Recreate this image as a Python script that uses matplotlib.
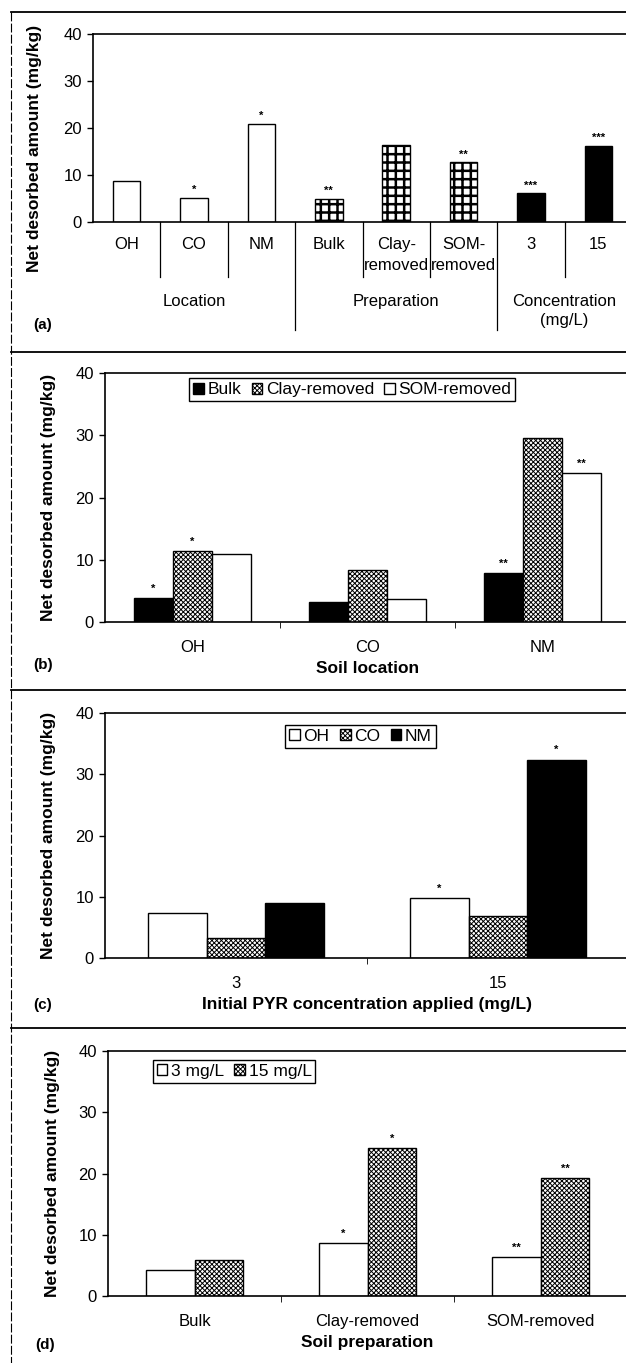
import numpy as np
import matplotlib
matplotlib.use('Agg')
import matplotlib.pyplot as plt
from matplotlib.lines import Line2D

plt.rcParams['font.family'] = ['Liberation Sans', 'DejaVu Sans']
plt.rcParams['hatch.linewidth'] = 0.7

# (a) datos por factor
a_labels = ['OH', 'CO', 'NM', 'Bulk', 'Clay-\nremoved', 'SOM-\nremoved', '3', '15']
a_values = [8.8, 5.1, 20.9, 5.0, 16.4, 12.7, 6.1, 16.2]
a_stars = ['', '*', '*', '**', '', '**', '***', '***']
a_groups = ['Location', 'Preparation', 'Concentration\n(mg/L)']
a_group_size = [3, 3, 2]

# (b) localizacion del suelo
b_cats = ['OH', 'CO', 'NM']
b_bulk = [3.8, 3.2, 7.9]
b_clay = [11.4, 8.4, 29.5]
b_som = [10.9, 3.7, 24.0]
b_stars_bulk = ['*', '', '**']
b_stars_clay = ['*', '', '']
b_stars_som = ['', '', '**']

# (c) concentracion inicial
c_cats = ['3', '15']
c_oh = [7.4, 9.8]
c_co = [3.3, 6.9]
c_nm = [8.9, 32.4]
c_stars_oh = ['', '*']
c_stars_co = ['', '']
c_stars_nm = ['', '*']

# (d) preparacion del suelo
d_cats = ['Bulk', 'Clay-removed', 'SOM-removed']
d_3 = [4.2, 8.7, 6.3]
d_15 = [5.9, 24.2, 19.2]
d_stars_3 = ['', '*', '**']
d_stars_15 = ['', '*', '**']

W, H = 626, 1363
fig = plt.figure(figsize=(W / 100, H / 100), dpi=100)

FS = 12      # etiquetas de ticks
FSL = 12.5   # titulos de ejes
CRUZ = 'xxxxxxx'


def px_axes(x0, x1, y0, y1):
    return fig.add_axes([x0 / W, 1 - y1 / H, (x1 - x0) / W, (y1 - y0) / H])


def estilo(ax, ncat):
    ax.set_ylim(0, 40)
    ax.set_xlim(-0.5, ncat - 0.5)
    ax.set_yticks([0, 10, 20, 30, 40])
    ax.spines['right'].set_visible(False)
    for s in ['left', 'top', 'bottom']:
        ax.spines[s].set_linewidth(1.2)
    ax.tick_params(axis='y', labelsize=FS, length=4, width=1, pad=4)
    ax.tick_params(axis='x', which='major', length=0, labelsize=FS)
    ax.set_ylabel('Net desorbed amount (mg/kg)', fontsize=FSL, fontweight='bold')


def estrellas(ax, xs, ys, marks, off=4.5):
    for x, y, m in zip(xs, ys, marks):
        if m:
            ax.annotate(m, (x, y), xytext=(0, off), textcoords='offset points',
                        ha='center', va='baseline', fontsize=8, fontweight='bold')


def leyenda(ax, ncol, anchor):
    ax.legend(ncol=ncol, loc='upper center', bbox_to_anchor=anchor, fontsize=FSL,
              frameon=True, fancybox=False, edgecolor='black', framealpha=1,
              handlelength=0.62, handleheight=0.62, handletextpad=0.2, columnspacing=0.6,
              borderpad=0.22, borderaxespad=0)


def hatch_lw(bars, lw):
    for p in bars:
        if hasattr(p, 'set_hatch_linewidth'):
            p.set_hatch_linewidth(lw)


# ---------- (a)
ax = px_axes(93, 632, 34, 222)
estilo(ax, 8)
x = np.arange(8)
colores = ['white'] * 6 + ['black'] * 2
hatches = [''] * 3 + ['++'] * 3 + [''] * 2
with plt.rc_context({'hatch.linewidth': 1.8}):
    bars = ax.bar(x, a_values, 0.41, color=colores, edgecolor='black', linewidth=1, hatch=hatches)
hatch_lw(bars[3:6], 1.8)
estrellas(ax, x, a_values, a_stars, off=3.5)
ax.set_xticks(x)
ax.set_xticklabels(a_labels)
for t in ax.get_xticklabels():
    t.set_linespacing(1.5)
ax.tick_params(axis='x', pad=11)
ax.yaxis.set_label_coords(-0.095, 0.39)
trans = ax.get_xaxis_transform()
# separadores de categorias y grupos
lim = np.cumsum(a_group_size)
for b in np.arange(1, 8):
    yb = -0.575 if b in lim else -0.295
    ax.plot([b - 0.5, b - 0.5], [0, yb], color='black', lw=0.9, transform=trans, clip_on=False)
ini = 0
for g, n in zip(a_groups, a_group_size):
    ax.text(ini + (n - 1) / 2, -0.385, g, transform=trans, ha='center', va='top',
            fontsize=FS, linespacing=1.3)
    ini += n
fig.text(33 / W, 1 - 325 / H, '(a)', fontsize=11, fontweight='bold', va='center')

# ---------- (b)
ax = px_axes(105, 630, 373, 622)
estilo(ax, 3)
x = np.arange(3)
w = 0.223
ax.bar(x - w, b_bulk, w, color='black', edgecolor='black', linewidth=1, label='Bulk')
ax.bar(x, b_clay, w, color='white', edgecolor='black', linewidth=1, hatch=CRUZ, label='Clay-removed')
ax.bar(x + w, b_som, w, color='white', edgecolor='black', linewidth=1, label='SOM-removed')
estrellas(ax, x - w, b_bulk, b_stars_bulk)
estrellas(ax, x, b_clay, b_stars_clay)
estrellas(ax, x + w, b_som, b_stars_som)
ax.set_xticks(x)
ax.set_xticklabels(b_cats)
ax.set_xticks(np.arange(0.5, 3, 1), minor=True)
ax.tick_params(axis='x', which='minor', length=4, direction='out')
ax.tick_params(axis='x', which='major', pad=13)
ax.set_xlabel('Soil location', fontsize=FSL, fontweight='bold', labelpad=4)
ax.yaxis.set_label_coords(-0.093, 0.5)
leyenda(ax, 3, (0.471, 0.978))
fig.text(33 / W, 1 - 665 / H, '(b)', fontsize=11, fontweight='bold', va='center')

# ---------- (c)
ax = px_axes(105, 629, 713, 958)
estilo(ax, 2)
x = np.arange(2)
ax.bar(x - w, c_oh, w, color='white', edgecolor='black', linewidth=1, label='OH')
ax.bar(x, c_co, w, color='white', edgecolor='black', linewidth=1, hatch=CRUZ, label='CO')
ax.bar(x + w, c_nm, w, color='black', edgecolor='black', linewidth=1, label='NM')
estrellas(ax, x - w, c_oh, c_stars_oh)
estrellas(ax, x, c_co, c_stars_co)
estrellas(ax, x + w, c_nm, c_stars_nm)
ax.set_xticks(x)
ax.set_xticklabels(c_cats)
ax.set_xticks([0.5], minor=True)
ax.tick_params(axis='x', which='minor', length=4, direction='out')
ax.tick_params(axis='x', which='major', pad=13)
ax.set_xlabel('Initial PYR concentration applied (mg/L)', fontsize=FSL, fontweight='bold', labelpad=4)
ax.yaxis.set_label_coords(-0.093, 0.5)
leyenda(ax, 3, (0.4876, 0.951))
fig.text(33 / W, 1 - 1005 / H, '(c)', fontsize=11, fontweight='bold', va='center')

# ---------- (d)
ax = px_axes(108, 627, 1051, 1296)
estilo(ax, 3)
x = np.arange(3)
w2 = 0.283
ax.bar(x - w2 / 2, d_3, w2, color='white', edgecolor='black', linewidth=1, label='3 mg/L')
ax.bar(x + w2 / 2, d_15, w2, color='white', edgecolor='black', linewidth=1, hatch=CRUZ, label='15 mg/L')
estrellas(ax, x - w2 / 2, d_3, d_stars_3)
estrellas(ax, x + w2 / 2, d_15, d_stars_15)
ax.set_xticks(x)
ax.set_xticklabels(d_cats)
ax.set_xticks(np.arange(0.5, 3, 1), minor=True)
ax.tick_params(axis='x', which='minor', length=4, direction='out')
ax.tick_params(axis='x', which='major', pad=13)
ax.set_xlabel('Soil preparation', fontsize=FSL, fontweight='bold', labelpad=4)
ax.yaxis.set_label_coords(-0.092, 0.5)
leyenda(ax, 2, (0.243, 0.963))
fig.text(35 / W, 1 - 1345 / H, '(d)', fontsize=11, fontweight='bold', va='center')

# marcos de los paneles
fig.add_artist(Line2D([11 / W, 11 / W], [1 - 12 / H, 0], color='black', lw=0.8, ls=(0, (8, 2))))
for yy in [12, 352, 690, 1028]:
    fig.add_artist(Line2D([11 / W, 1], [1 - yy / H, 1 - yy / H], color='black', lw=1.3))

plt.savefig('out.png', dpi=100)
plt.close()
